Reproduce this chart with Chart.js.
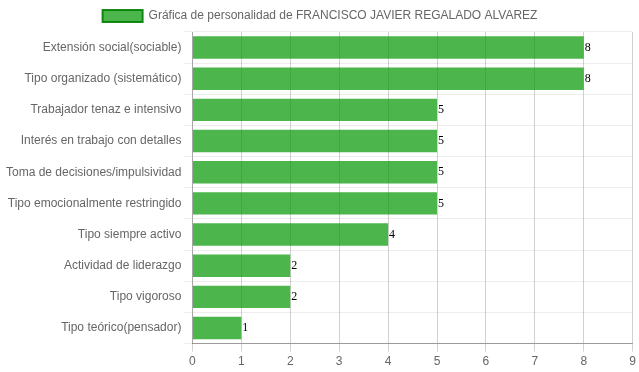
<!DOCTYPE html>
<html>
<head>
<meta charset="utf-8">
<script src="https://cdn.jsdelivr.net/npm/chart.js@4/dist/chart.umd.min.js"></script>
<style>
    html, body { margin: 0; padding: 0; background: #fff; }
    #contenedor { width: 639px; height: 372px; }
</style>
</head>
<body>
<div id="contenedor"><canvas id="chartPersonalidad"></canvas></div>
<script>
// Datos de la gráfica
const categorias = [
    'Extensión social(sociable)',
    'Tipo organizado (sistemático)',
    'Trabajador tenaz e intensivo',
    'Interés en trabajo con detalles',
    'Toma de decisiones/impulsividad',
    'Tipo emocionalmente restringido',
    'Tipo siempre activo',
    'Actividad de liderazgo',
    'Tipo vigoroso',
    'Tipo teórico(pensador)'
];
const puntajes = [8, 8, 5, 5, 5, 5, 4, 2, 2, 1];
const tituloSerie = 'Gráfica de personalidad de FRANCISCO JAVIER REGALADO ALVAREZ';
const escalaMax = 9;

Chart.defaults.font.family = "'Liberation Sans', Arial, sans-serif";
Chart.defaults.font.size = 12;
Chart.defaults.color = '#666';

// Escribir el valor al final de cada barra
const etiquetasValor = {
    id: 'etiquetasValor',
    afterDatasetsDraw(chart) {
        const ctx = chart.ctx;
        ctx.save();
        ctx.font = "12px 'Liberation Serif', 'Times New Roman', serif";
        ctx.fillStyle = '#000';
        ctx.textAlign = 'left';
        ctx.textBaseline = 'middle';
        chart.getDatasetMeta(0).data.forEach((barra, i) => {
            ctx.fillText(chart.data.datasets[0].data[i], barra.x + 1, barra.y);
        });
        ctx.restore();
    }
};

const ctx = document.getElementById('chartPersonalidad').getContext('2d');
new Chart(ctx, {
    type: 'bar',
    data: {
        labels: categorias,
        datasets: [{
            label: tituloSerie,
            data: puntajes,
            backgroundColor: 'rgba(0,150,0,0.7)',
            borderColor: 'rgba(0,128,0,0.9)',
            borderWidth: 2,
            borderSkipped: true
        }]
    },
    options: {
        indexAxis: 'y',
        responsive: true,
        maintainAspectRatio: false,
        animation: false,
        layout: { padding: { left: 3, right: 2 } },
        plugins: {
            legend: {
                position: 'top',
                labels: { boxWidth: 40, boxHeight: 12 }
            },
            tooltip: { enabled: false }
        },
        scales: {
            x: {
                beginAtZero: true,
                max: escalaMax,
                ticks: { stepSize: 1 },
                grid: { color: 'rgba(0,0,0,0.18)' },
                border: { color: 'rgba(0,0,0,0.35)' }
            },
            y: {
                grid: { color: 'rgba(0,0,0,0.07)' },
                border: { color: 'rgba(0,0,0,0.2)' }
            }
        }
    },
    plugins: [etiquetasValor]
});
</script>
</body>
</html>
